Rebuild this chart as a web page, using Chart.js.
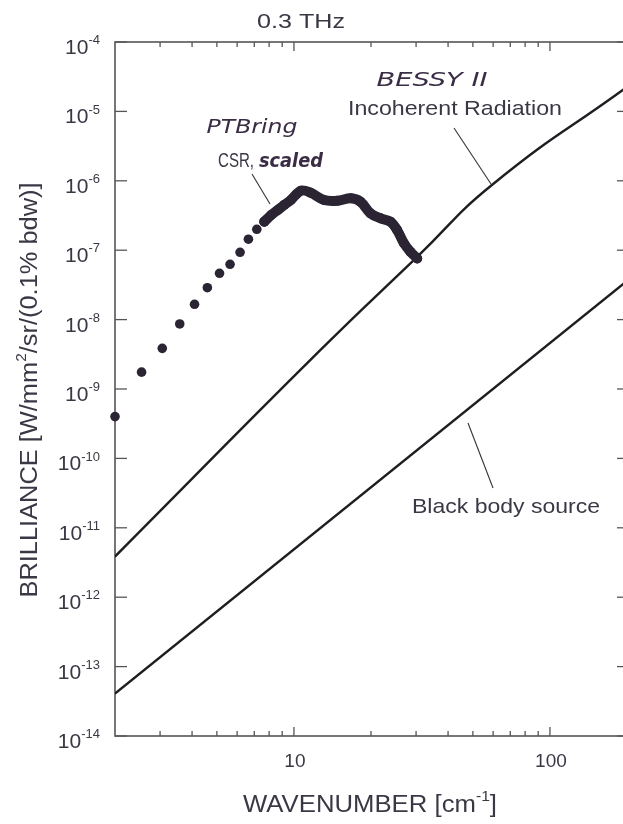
<!DOCTYPE html>
<html>
<head>
<meta charset="utf-8">
<script src="https://cdn.jsdelivr.net/npm/chart.js@4.4.1/dist/chart.umd.min.js"></script>
<style>
	html, body { margin: 0; padding: 0; overflow: hidden; background: #fff; }
	canvas { display: block; }
</style>
</head>
<body>
<canvas id="chart" width="640" height="824"></canvas>
<script>
// PTB ring CSR (scaled) - separate dots at low wavenumber
var csrDotX = [2.0, 2.54, 3.06, 3.58, 4.09, 4.59, 5.12, 5.63, 6.16, 6.64, 7.16, 7.66];
var csrDotY = [4.0e-10, 1.75e-9, 3.85e-9, 8.65e-9, 1.66e-8, 2.88e-8, 4.65e-8, 6.26e-8, 9.33e-8, 1.44e-7, 2.0e-7, 2.58e-7];

// PTB ring CSR - dense part where the dots run together
var csrCurveX = [7.66, 8.15, 8.65, 9.17, 9.73, 10.65, 11.6, 13.1, 14.8, 16.7, 18.2, 19.9, 21.8, 23.8, 25.3, 26.9, 28.5, 30.3];
var csrCurveY = [2.58e-7, 3.21e-7, 3.8e-7, 4.5e-7, 5.3e-7, 7.2e-7, 6.74e-7, 5.28e-7, 5.16e-7, 5.6e-7, 5.0e-7, 3.4e-7, 2.88e-7, 2.58e-7, 1.95e-7, 1.26e-7, 9.5e-8, 7.6e-8];

// BESSY II incoherent radiation
var incX = [2, 12.7, 30.3, 60, 200];
var incY = [3.85e-12, 3.65e-9, 8.0e-8, 9.0e-7, 2.25e-5];

// black body source
var bbX = [2, 200];
var bbY = [4.1e-14, 3.6e-8];

// axes
var xMin = 2, xMax = 200;
var yMin = 1e-14, yMax = 1e-4;
var yTickPowers = [-4, -5, -6, -7, -8, -9, -10, -11, -12, -13, -14];
var xMajorTicks = [10, 100];
var xMinorTicks = [3, 4, 5, 6, 7, 8, 9, 20, 30, 40, 50, 60, 70, 80, 90];

var TEXT = "#3b3845";
var INK = "#2a2433";
var SANS = "'Liberation Sans', Arial, sans-serif";
var HAND = "'Comic Sans MS', 'DejaVu Sans', sans-serif";

function pts(xs, ys) {
	var out = [];
	for (var i = 0; i < xs.length; i++) {
		out.push({x: xs[i], y: ys[i]});
	}
	return out;
}

function fontOf(p, size) {
	return (p.style || "") + " " + (p.sup ? Math.round(size * 0.62) : size) + "px " + (p.family || SANS);
}

// draw a run of text pieces (some superscript), stretched to a given width
function rich(ctx, parts, x, y, size, width, align) {
	var total = 0;
	for (var i = 0; i < parts.length; i++) {
		ctx.font = fontOf(parts[i], size);
		parts[i].w = ctx.measureText(parts[i].t).width;
		total += parts[i].w;
	}
	var sx = width ? width / total : 1;
	ctx.save();
	ctx.translate(x, y);
	ctx.scale(sx, 1);
	var cx = align == "center" ? -total / 2 : (align == "right" ? -total : 0);
	ctx.textAlign = "left";
	ctx.textBaseline = "alphabetic";
	for (var i = 0; i < parts.length; i++) {
		var p = parts[i];
		ctx.font = fontOf(p, size);
		ctx.fillStyle = p.color || TEXT;
		ctx.fillText(p.t, cx, p.sup ? -size * 0.47 : 0);
		cx += p.w;
	}
	ctx.restore();
}

function seg(ctx, x1, y1, x2, y2) {
	ctx.beginPath();
	ctx.moveTo(x1, y1);
	ctx.lineTo(x2, y2);
	ctx.stroke();
}

var frame = {
	id: "frame",
	beforeDatasetsDraw: function(chart) {
		var ctx = chart.ctx;
		var a = chart.chartArea;
		var xs = chart.scales.x, ys = chart.scales.y;
		ctx.save();
		ctx.strokeStyle = "#555";
		ctx.lineWidth = 1.6;
		ctx.strokeRect(a.left, a.top, a.right - a.left, a.bottom - a.top);
		ctx.lineWidth = 1.3;
		for (var i = 0; i < yTickPowers.length; i++) {
			var py = ys.getPixelForValue(Math.pow(10, yTickPowers[i]));
			seg(ctx, a.left, py, a.left + 12, py);
			seg(ctx, a.right - 10, py, a.right, py);
		}
		for (var i = 0; i < xMinorTicks.length; i++) {
			var px = xs.getPixelForValue(xMinorTicks[i]);
			seg(ctx, px, a.bottom, px, a.bottom - 5);
			seg(ctx, px, a.top, px, a.top + 5);
		}
		for (var i = 0; i < xMajorTicks.length; i++) {
			var px = xs.getPixelForValue(xMajorTicks[i]);
			seg(ctx, px, a.bottom, px, a.bottom - 9);
			seg(ctx, px, a.top, px, a.top + 9);
		}
		ctx.restore();
	},
	afterDraw: function(chart) {
		var ctx = chart.ctx;
		var xs = chart.scales.x, ys = chart.scales.y;
		ctx.save();

		// y tick labels
		for (var i = 0; i < yTickPowers.length; i++) {
			var py = ys.getPixelForValue(Math.pow(10, yTickPowers[i]));
			rich(ctx, [{t: "10"}, {t: String(yTickPowers[i]), sup: true}], 100, py + 12, 21, 0, "right");
		}
		// x tick labels
		for (var i = 0; i < xMajorTicks.length; i++) {
			var px = xs.getPixelForValue(xMajorTicks[i]);
			rich(ctx, [{t: String(xMajorTicks[i])}], px + 1, 767, 19, 0, "center");
		}

		// titles
		rich(ctx, [{t: "0.3 THz"}], 301, 28, 21, 88, "center");
		rich(ctx, [{t: "WAVENUMBER [cm"}, {t: "-1", sup: true}, {t: "]"}], 370, 812, 23, 254, "center");
		ctx.save();
		ctx.translate(37, 390);
		ctx.rotate(-Math.PI / 2);
		rich(ctx, [{t: "BRILLIANCE [W/mm"}, {t: "2", sup: true}, {t: "/sr/(0.1% bdw)]"}], 0, 0, 23, 415, "center");
		ctx.restore();

		// annotations
		rich(ctx, [{t: "PTBring", style: "italic", family: HAND, color: "#3a2c44"}], 252, 133, 20, 91, "center");
		rich(ctx, [{t: "CSR,"}], 218, 167, 21, 36, "left");
		rich(ctx, [{t: "scaled", style: "italic bold", family: HAND, color: "#3a2c44"}], 259, 167, 20, 64, "left");
		rich(ctx, [{t: "BESSY II", style: "italic", family: HAND, color: "#3a2c44"}], 432, 86, 20, 111, "center");
		rich(ctx, [{t: "Incoherent Radiation"}], 455, 115, 21, 214, "center");
		rich(ctx, [{t: "Black body source"}], 506, 513, 21, 188, "center");

		ctx.strokeStyle = "#333";
		ctx.lineWidth = 1.1;
		seg(ctx, 252, 174, 270, 204);
		seg(ctx, 454, 128, 491, 184);
		seg(ctx, 468, 423, 493, 488);
		ctx.restore();
	}
};

var ctx = document.getElementById("chart").getContext("2d");
var myChart = new Chart(ctx, {
	type: "scatter",
	data: {
		datasets: [
			{
				label: "CSR dots",
				data: pts(csrDotX, csrDotY),
				showLine: false,
				pointRadius: 4.8,
				pointBackgroundColor: INK,
				pointBorderColor: INK,
				pointBorderWidth: 0,
				clip: false
			},
			{
				label: "CSR dense",
				data: pts(csrCurveX, csrCurveY),
				showLine: true,
				borderColor: INK,
				borderWidth: 10,
				borderCapStyle: "round",
				borderJoinStyle: "round",
				tension: 0.35,
				pointRadius: 5,
				pointBackgroundColor: INK,
				pointBorderWidth: 0
			},
			{
				label: "Incoherent",
				data: pts(incX, incY),
				showLine: true,
				borderColor: "#1e1e22",
				borderWidth: 2.4,
				tension: 0.5,
				pointRadius: 0
			},
			{
				label: "Black body",
				data: pts(bbX, bbY),
				showLine: true,
				borderColor: "#1e1e22",
				borderWidth: 2.4,
				pointRadius: 0
			}
		]
	},
	options: {
		responsive: false,
		animation: false,
		layout: { padding: { left: 115, top: 42, right: 13, bottom: 88 } },
		plugins: { legend: { display: false }, tooltip: { enabled: false } },
		scales: {
			x: { type: "logarithmic", min: xMin, max: xMax, display: false },
			y: { type: "logarithmic", min: yMin, max: yMax, display: false }
		}
	},
	plugins: [frame]
});
</script>
</body>
</html>
